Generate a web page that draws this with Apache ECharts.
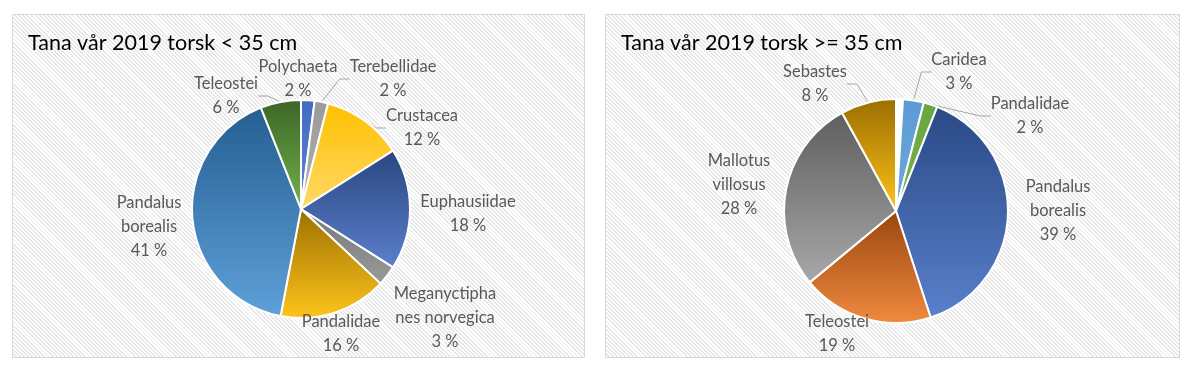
<!DOCTYPE html>
<html>
<head>
<meta charset="utf-8">
<script src="https://cdn.jsdelivr.net/npm/echarts@6/dist/echarts.min.js"></script>
<style>
  html, body { margin: 0; padding: 0; background: #fff; }
  body { width: 1193px; height: 375px; position: relative; overflow: hidden; }
  .panel {
    position: absolute; box-sizing: border-box; border: 1px solid #d9d9d9;
    background: repeating-linear-gradient(45deg, #ffffff 0px, #ffffff 1.6px, #e6e6e6 1.6px, #e6e6e6 2.9px);
  }
  .chart { position: absolute; left: 0; top: 0; right: 0; bottom: 0; }
</style>
</head>
<body>
<div class="panel" id="p1" style="left:12px; top:14px; width:573px; height:344px;"><div class="chart" id="c1"></div></div>
<div class="panel" id="p2" style="left:605px; top:14px; width:575px; height:344px;"><div class="chart" id="c2"></div></div>
<script>
// ---- Data ----
const leftTitle = 'Tana vår 2019 torsk < 35 cm';
const leftCategories = ['Polychaeta', 'Terebellidae', 'Crustacea', 'Euphausiidae', 'Meganyctiphanes norvegica', 'Pandalidae', 'Pandalus borealis', 'Teleostei'];
const leftLabelNames = ['Polychaeta', 'Terebellidae', 'Crustacea', 'Euphausiidae', 'Meganyctipha\nnes norvegica', 'Pandalidae', 'Pandalus\nborealis', 'Teleostei'];
const leftValues = [2, 2, 12, 18, 3, 16, 41, 6];

const rightTitle = 'Tana vår 2019 torsk >= 35 cm';
const rightCategories = ['', 'Caridea', 'Pandalidae', 'Pandalus borealis', 'Teleostei', 'Mallotus villosus', 'Sebastes'];
const rightLabelNames = ['', 'Caridea', 'Pandalidae', 'Pandalus\nborealis', 'Teleostei', 'Mallotus\nvillosus', 'Sebastes'];
const rightValues = [1, 3, 2, 39, 19, 28, 8];

// ---- Styles ----
const FONT = 'Lato, "Open Sans", sans-serif';
function grad(top, bottom) {
  return new echarts.graphic.LinearGradient(0, 0, 0, 1, [
    { offset: 0, color: top }, { offset: 1, color: bottom }
  ]);
}
const leftColors = [
  grad('#3f6cc0', '#5a86d6'),
  grad('#9a9a9a', '#b2b2b2'),
  grad('#ffc000', '#ffd966'),
  grad('#294680', '#5c80cc'),
  grad('#777777', '#9a9a9a'),
  grad('#9c7000', '#ffc41c'),
  grad('#255e91', '#5fa0d9'),
  grad('#3b6526', '#74b24a')
];
const leftShowLine = [false, true, true, false, false, false, false, true];
const leftLabelPos = [[285, 64], [380, 64], [409, 113], [455, 199], [432, 303], [328, 319], [136, 212], [213, 81]];

const rightColors = [
  '#ffffff',
  grad('#5b9bd5', '#6ea8dc'),
  grad('#68a541', '#78b54f'),
  grad('#2a4985', '#5a80cc'),
  grad('#9a460e', '#f08a40'),
  grad('#5e5e5e', '#a8a8a8'),
  grad('#9a6e00', '#ffc31a')
];
const rightShowLine = [false, true, true, false, false, false, true];
const rightLabelPos = [[0, 0], [353, 57], [424, 101], [452, 196], [231, 319], [133, 170], [209, 69]];

function buildOption(title, names, labelNames, values, colors, showLine, labelPos, center, radius) {
  const data = names.map((n, i) => ({
    name: n,
    value: values[i],
    itemStyle: { color: colors[i] },
    label: { show: n !== '', formatter: labelNames[i] + '\n{c} %' },
    labelLine: { show: showLine[i] }
  }));
  return {
    animation: false,
    title: {
      text: title, left: 10, top: 12,
      textStyle: { fontFamily: FONT, fontSize: 21.5, fontWeight: 'normal', color: '#000000' }
    },
    series: [{
      type: 'pie',
      center: center,
      radius: radius,
      startAngle: 90,
      clockwise: true,
      avoidLabelOverlap: false,
      itemStyle: { borderColor: '#ffffff', borderWidth: 2 },
      label: {
        position: 'outside',
        fontFamily: FONT, fontSize: 16.5, color: '#595959',
        lineHeight: 24, align: 'center'
      },
      labelLine: { show: true, length: 10, length2: 10, lineStyle: { color: '#a6a6a6', width: 1 } },
      labelLayout: function (p) {
        const pos = labelPos[p.dataIndex];
        return { x: pos[0], y: pos[1], align: 'center', verticalAlign: 'middle' };
      },
      data: data
    }]
  };
}

const c1 = echarts.init(document.getElementById('c1'));
c1.setOption(buildOption(leftTitle, leftCategories, leftLabelNames, leftValues, leftColors, leftShowLine, leftLabelPos, [288, 194], 109));
const c2 = echarts.init(document.getElementById('c2'));
c2.setOption(buildOption(rightTitle, rightCategories, rightLabelNames, rightValues, rightColors, rightShowLine, rightLabelPos, [290, 196], 112));
</script>
</body>
</html>
